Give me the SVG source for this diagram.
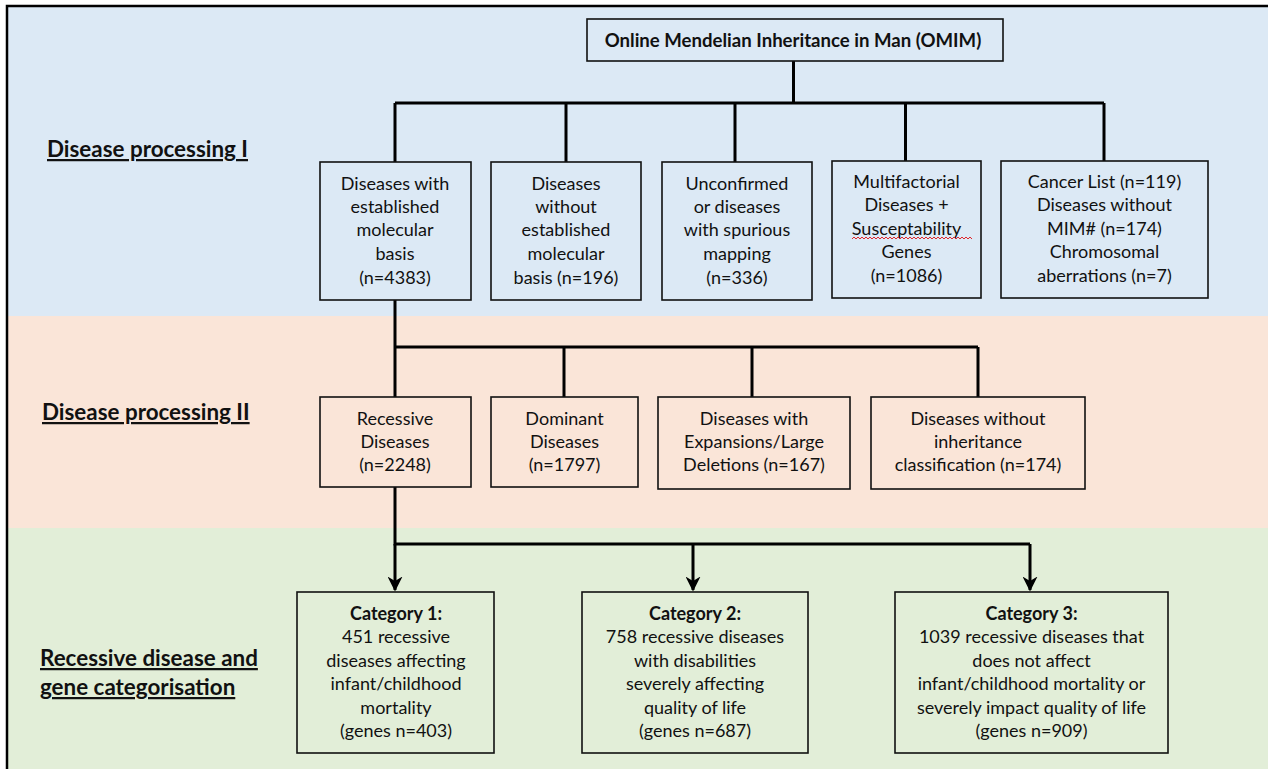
<svg xmlns="http://www.w3.org/2000/svg" width="1268" height="769" viewBox="0 0 1268 769">
<style>
.t{font-family:Lato,"Open Sans","Liberation Sans",sans-serif;font-size:18px;fill:#111;text-anchor:middle}
.b{font-weight:bold}
.lbl{font-family:Lato,"Open Sans","Liberation Sans",sans-serif;font-size:22.4px;font-weight:bold;fill:#111;text-decoration:underline}
.box{fill:none;stroke:#111;stroke-width:1.6}
.con{fill:none;stroke:#000;stroke-width:3}
</style>
<defs>
<marker id="ah" viewBox="0 0 10 10" refX="9" refY="5" markerWidth="5" markerHeight="5" orient="auto" markerUnits="strokeWidth">
<path d="M0,0 L10,5 L0,10 L3,5 z" fill="#000"/>
</marker>
</defs>
<rect x="7" y="7" width="1261" height="309" fill="#DCE9F5"/>
<rect x="7" y="316" width="1261" height="212" fill="#FAE5D8"/>
<rect x="7" y="528" width="1261" height="241" fill="#E2EED8"/>
<rect x="7" y="6" width="1300" height="800" fill="none" stroke="#000" stroke-width="2.5"/>

<text class="lbl" x="47" y="157">Disease processing I</text>
<text class="lbl" x="42" y="420">Disease processing II</text>
<text class="lbl" x="40" y="666">Recessive disease and</text>
<text class="lbl" x="40" y="695">gene categorisation</text>

<g id="connectors">
<path class="con" d="M793.5,61 V103 M395,103 H1104 M395,103 V162 M566,103 V162 M735,103 V162 M905.5,103 V161 M1104,103 V161"/>
<path class="con" d="M395,300 V397 M395,347 H978 M564,347 V397 M752,347 V397 M978,347 V397"/>
<path class="con" d="M395,487 V544 H1030"/>
<path class="con" d="M395,544 V590" marker-end="url(#ah)"/>
<path class="con" d="M693,544 V590" marker-end="url(#ah)"/>
<path class="con" d="M1030,544 V590" marker-end="url(#ah)"/>
</g>

<g id="omim">
<rect class="box" x="587" y="19" width="416" height="42"/>
<text class="t b" x="793" y="47" style="font-size:18.6px">Online Mendelian Inheritance in Man (OMIM)</text>
</g>

<g id="established">
<rect class="box" x="320" y="162" width="151" height="138"/>
<text class="t" x="395" y="190">Diseases with</text>
<text class="t" x="395" y="213">established</text>
<text class="t" x="395" y="236">molecular</text>
<text class="t" x="395" y="260">basis</text>
<text class="t" x="395" y="284">(n=4383)</text>
</g>
<g id="without-established">
<rect class="box" x="491" y="162" width="150" height="138"/>
<text class="t" x="566" y="190">Diseases</text>
<text class="t" x="566" y="213">without</text>
<text class="t" x="566" y="236">established</text>
<text class="t" x="566" y="260">molecular</text>
<text class="t" x="566" y="284">basis (n=196)</text>
</g>
<g id="unconfirmed">
<rect class="box" x="662" y="162" width="150" height="138"/>
<text class="t" x="737" y="190">Unconfirmed</text>
<text class="t" x="737" y="213">or diseases</text>
<text class="t" x="737" y="236">with spurious</text>
<text class="t" x="737" y="260">mapping</text>
<text class="t" x="737" y="284">(n=336)</text>
</g>
<g id="multifactorial">
<rect class="box" x="832" y="161" width="149" height="137"/>
<text class="t" x="906.5" y="188">Multifactorial</text>
<text class="t" x="906.5" y="211">Diseases +</text>
<text class="t" x="906.5" y="235">Susceptability</text>
<text class="t" x="906.5" y="258">Genes</text>
<text class="t" x="906.5" y="282">(n=1086)</text>
<path d="M852,239 l2,-2 l2,2 l2,-2 l2,2 l2,-2 l2,2 l2,-2 l2,2 l2,-2 l2,2 l2,-2 l2,2 l2,-2 l2,2 l2,-2 l2,2 l2,-2 l2,2 l2,-2 l2,2 l2,-2 l2,2 l2,-2 l2,2 l2,-2 l2,2 l2,-2 l2,2 l2,-2 l2,2 l2,-2 l2,2 l2,-2 l2,2 l2,-2 l2,2 l2,-2 l2,2 l2,-2 l2,2 l2,-2 l2,2 l2,-2 l2,2 l2,-2 l2,2 l2,-2 l2,2 l2,-2 l2,2 l2,-2 l2,2 l2,-2 l2,2 l2,-2 l2,2 l2,-2 l2,2 l2,-2 l2,2" fill="none" stroke="#E0262A" stroke-width="1"/>
</g>
<g id="cancer">
<rect class="box" x="1001" y="161" width="207" height="137"/>
<text class="t" x="1104.5" y="188">Cancer List (n=119)</text>
<text class="t" x="1104.5" y="211">Diseases without</text>
<text class="t" x="1104.5" y="235">MIM# (n=174)</text>
<text class="t" x="1104.5" y="258">Chromosomal</text>
<text class="t" x="1104.5" y="282">aberrations (n=7)</text>
</g>

<g id="recessive">
<rect class="box" x="320" y="397" width="151" height="90"/>
<text class="t" x="395" y="425">Recessive</text>
<text class="t" x="395" y="448">Diseases</text>
<text class="t" x="395" y="471">(n=2248)</text>
</g>
<g id="dominant">
<rect class="box" x="491" y="397" width="147" height="90"/>
<text class="t" x="564.5" y="425">Dominant</text>
<text class="t" x="564.5" y="448">Diseases</text>
<text class="t" x="564.5" y="471">(n=1797)</text>
</g>
<g id="expansions">
<rect class="box" x="658" y="397" width="192" height="92"/>
<text class="t" x="754" y="425">Diseases with</text>
<text class="t" x="754" y="448">Expansions/Large</text>
<text class="t" x="754" y="471">Deletions (n=167)</text>
</g>
<g id="no-inheritance">
<rect class="box" x="871" y="397" width="214" height="92"/>
<text class="t" x="978" y="425">Diseases without</text>
<text class="t" x="978" y="448">inheritance</text>
<text class="t" x="978" y="471">classification (n=174)</text>
</g>

<g id="category1">
<rect class="box" x="297" y="592" width="197" height="161"/>
<text class="t b" x="396" y="620">Category 1:</text>
<text class="t" x="396" y="643">451 recessive</text>
<text class="t" x="396" y="667">diseases affecting</text>
<text class="t" x="396" y="690">infant/childhood</text>
<text class="t" x="396" y="714">mortality</text>
<text class="t" x="396" y="737">(genes n=403)</text>
</g>
<g id="category2">
<rect class="box" x="582" y="592" width="226" height="161"/>
<text class="t b" x="695" y="620">Category 2:</text>
<text class="t" x="695" y="643">758 recessive diseases</text>
<text class="t" x="695" y="667">with disabilities</text>
<text class="t" x="695" y="690">severely affecting</text>
<text class="t" x="695" y="714">quality of life</text>
<text class="t" x="695" y="737">(genes n=687)</text>
</g>
<g id="category3">
<rect class="box" x="895" y="592" width="273" height="161"/>
<text class="t b" x="1031.5" y="620">Category 3:</text>
<text class="t" x="1031.5" y="643">1039 recessive diseases that</text>
<text class="t" x="1031.5" y="667">does not affect</text>
<text class="t" x="1031.5" y="690">infant/childhood mortality or</text>
<text class="t" x="1031.5" y="714">severely impact quality of life</text>
<text class="t" x="1031.5" y="737">(genes n=909)</text>
</g>
</svg>
